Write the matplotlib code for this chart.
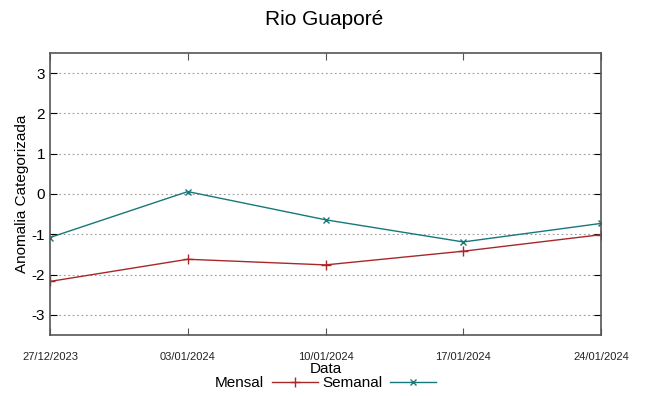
import matplotlib
matplotlib.use("Agg")
import matplotlib.pyplot as plt
import numpy as np

plt.rcParams['font.family'] = ['Liberation Sans', 'DejaVu Sans']
plt.rcParams['axes.unicode_minus'] = False

datas = ['27/12/2023', '03/01/2024', '10/01/2024', '17/01/2024', '24/01/2024']
mensal = [-2.17, -1.62, -1.76, -1.42, -1.01]
semanal = [-1.08, 0.06, -0.64, -1.19, -0.73]

cor_mensal = '#a8282a'
cor_semanal = '#16787a'
cinza = '#555555'

fig = plt.figure(figsize=(6.49, 3.96), dpi=100)
ax = fig.add_axes([50 / 649, 1 - 335 / 396, 551 / 649, 282 / 396])

x = np.arange(len(datas))
ax.plot(x, mensal, color=cor_mensal, lw=1, marker='+', ms=7, mew=1, label='Mensal')
ax.plot(x, semanal, color=cor_semanal, lw=1, marker='x', ms=5, mew=1, label='Semanal')

ax.set_xlim(0, len(datas) - 1)
ax.set_ylim(-3.5, 3.5)
ax.set_xticks(x)
ax.set_xticklabels(datas, fontsize=8, color='#222222')
ax.set_yticks([-3, -2, -1, 0, 1, 2, 3])
ax.tick_params(axis='y', labelsize=11, direction='in', right=True, length=5, color='black')
ax.tick_params(axis='x', direction='in', top=True, length=5, pad=12, color=cinza)
ax.yaxis.grid(True, linestyle=(0, (1.5, 2.5)), color='#999999', lw=0.8)
for s in ax.spines.values():
    s.set_color(cinza)
    s.set_linewidth(1.2)

ax.set_ylabel('Anomalia Categorizada', fontsize=11, labelpad=2)
ax.set_xlabel('Data', fontsize=11, labelpad=0)
fig.suptitle('Rio Guaporé', fontsize=15, y=0.975)

ax.legend(loc='upper center', bbox_to_anchor=(0.5, -0.125), ncol=2, frameon=False,
          fontsize=11, handlelength=3, columnspacing=0.3, handletextpad=0.5,
          borderaxespad=0, markerfirst=False)

fig.savefig('out.png', dpi=100)
